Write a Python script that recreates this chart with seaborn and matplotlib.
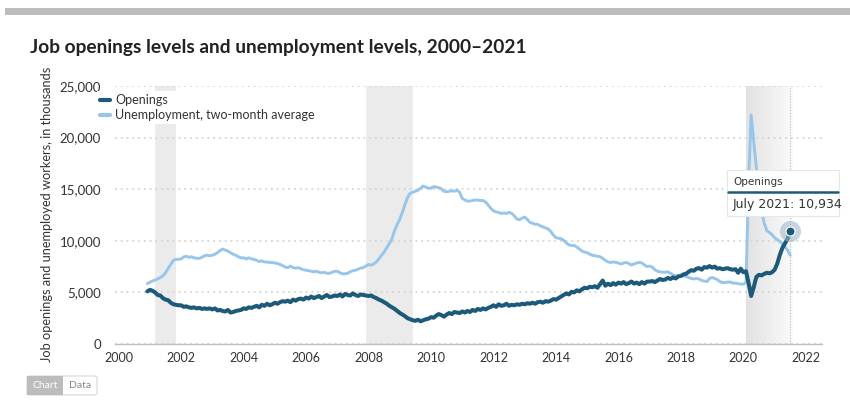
import matplotlib
matplotlib.use("Agg")
import matplotlib.pyplot as plt
import matplotlib.dates as mdates
from matplotlib.patches import Rectangle, FancyBboxPatch
from matplotlib.ticker import FuncFormatter, MultipleLocator
import seaborn as sns
import numpy as np
import pandas as pd

# monthly values in thousands, Dec 2000 .. Jul 2021
openings = [
    5.10,
    5.25, 5.15, 5.00, 4.75, 4.70, 4.45, 4.30, 4.25, 4.00, 3.85, 3.80, 3.75,
    3.75, 3.60, 3.65, 3.55, 3.50, 3.55, 3.45, 3.50, 3.40, 3.45, 3.40, 3.45,
    3.35, 3.45, 3.25, 3.30, 3.20, 3.15, 3.30, 3.05, 3.10, 3.20, 3.25, 3.30,
    3.45, 3.40, 3.55, 3.50, 3.60, 3.70, 3.55, 3.80, 3.70, 3.90, 3.75, 3.85,
    4.00, 3.90, 4.05, 4.15, 4.10, 4.20, 4.05, 4.30, 4.20, 4.35, 4.40, 4.30,
    4.50, 4.40, 4.60, 4.45, 4.55, 4.65, 4.45, 4.60, 4.75, 4.55, 4.60, 4.70,
    4.65, 4.80, 4.60, 4.85, 4.75, 4.70, 4.90, 4.75, 4.65, 4.80, 4.75, 4.70,
    4.65, 4.70, 4.55, 4.45, 4.30, 4.20, 4.05, 3.90, 3.70, 3.55, 3.40, 3.20,
    3.00, 2.85, 2.70, 2.50, 2.40, 2.30, 2.25, 2.35, 2.20, 2.30, 2.40, 2.45,
    2.60, 2.55, 2.75, 2.90, 2.80, 2.65, 2.85, 3.00, 2.90, 3.10, 3.05, 3.00,
    3.15, 3.05, 3.20, 3.10, 3.30, 3.20, 3.40, 3.30, 3.45, 3.35, 3.50, 3.60,
    3.75, 3.60, 3.85, 3.70, 3.75, 3.90, 3.70, 3.80, 3.75, 3.85, 3.80, 3.90,
    3.85, 3.95, 3.90, 4.00, 3.90, 4.05, 4.10, 4.00, 4.15, 4.10, 4.20, 4.35,
    4.30, 4.45, 4.60, 4.75, 4.90, 4.80, 5.05, 5.00, 5.20, 5.10, 5.30, 5.45,
    5.40, 5.55, 5.50, 5.60, 5.45, 5.80, 6.15, 5.65, 5.85, 5.70, 5.90, 5.75,
    5.95, 5.85, 6.00, 5.80, 5.90, 6.05, 5.85, 5.95, 5.80, 6.00, 5.85, 6.05,
    6.05, 6.10, 6.00, 6.15, 6.30, 6.20, 6.25, 6.40, 6.30, 6.45, 6.35, 6.55,
    6.60, 6.75, 6.80, 7.00, 7.15, 7.10, 7.30, 7.35, 7.20, 7.45, 7.40, 7.55,
    7.40, 7.50, 7.30, 7.35, 7.25, 7.30, 7.35, 7.25, 7.20, 7.25, 6.90, 7.30,
    6.95, 7.05, 5.95, 4.65, 5.50, 6.50, 6.70, 6.65, 6.80, 6.90, 6.85, 6.95,
    7.20, 7.80, 8.60, 9.30, 9.75, 10.20, 10.934,
]

unemployment = [
    5.85,
    6.00, 6.10, 6.20, 6.30, 6.45, 6.60, 6.90, 7.30, 7.70, 8.10, 8.20, 8.20,
    8.25, 8.45, 8.50, 8.40, 8.45, 8.35, 8.30, 8.30, 8.40, 8.55, 8.60, 8.55,
    8.60, 8.70, 8.85, 9.05, 9.20, 9.10, 9.00, 8.85, 8.70, 8.60, 8.45, 8.35,
    8.35, 8.25, 8.35, 8.25, 8.20, 8.10, 8.00, 8.05, 7.95, 7.95, 7.90, 7.90,
    7.85, 7.80, 7.70, 7.60, 7.45, 7.40, 7.55, 7.40, 7.35, 7.40, 7.30, 7.20,
    7.15, 7.10, 7.05, 7.00, 7.05, 6.95, 6.90, 6.95, 6.85, 6.85, 6.95, 7.05,
    7.05, 6.90, 6.80, 6.80, 6.85, 7.00, 7.10, 7.15, 7.25, 7.35, 7.40, 7.55,
    7.70, 7.65, 7.75, 7.95, 8.25, 8.60, 8.90, 9.35, 9.75, 10.20, 11.00, 11.60,
    12.10, 12.80, 13.50, 14.20, 14.60, 14.70, 14.80, 14.90, 15.10, 15.30, 15.20, 15.10,
    15.10, 15.25, 15.20, 15.15, 15.05, 14.80, 14.75, 14.80, 14.85, 14.80, 14.90, 14.70,
    14.10, 13.95, 13.85, 13.85, 13.90, 13.95, 13.95, 13.90, 13.90, 13.75, 13.45, 13.15,
    12.90, 12.80, 12.75, 12.65, 12.70, 12.65, 12.75, 12.65, 12.40, 12.10, 12.05, 12.20,
    12.30, 12.05, 11.80, 11.70, 11.60, 11.60, 11.45, 11.35, 11.25, 11.15, 10.90, 10.55,
    10.30, 10.25, 10.20, 10.05, 9.80, 9.60, 9.55, 9.55, 9.40, 9.20, 9.00, 8.90,
    8.85, 8.70, 8.60, 8.55, 8.50, 8.45, 8.30, 8.10, 7.95, 7.90, 7.95, 7.90,
    7.85, 7.75, 7.85, 7.90, 7.80, 7.65, 7.75, 7.85, 7.90, 7.85, 7.65, 7.50,
    7.55, 7.45, 7.20, 7.05, 7.00, 6.95, 6.95, 7.00, 6.85, 6.70, 6.60, 6.60,
    6.60, 6.60, 6.55, 6.45, 6.35, 6.30, 6.35, 6.30, 6.15, 6.10, 6.05, 6.35,
    6.45, 6.35, 6.25, 6.05, 5.95, 5.95, 6.00, 6.00, 5.90, 5.90, 5.85, 5.80,
    5.80, 5.95, 15.50, 22.20, 19.60, 17.10, 14.80, 13.00, 11.70, 11.00, 10.80, 10.60,
    10.30, 10.10, 9.95, 9.70, 9.40, 9.10, 8.60,
]

recessions = [("2001-03-01", "2001-11-01"), ("2007-12-01", "2009-06-01")]
covid_start = "2020-02-01"
series_names = ["Openings", "Unemployment, two-month average"]
colors = ["#1d5a7a", "#98c5ea"]

months = pd.date_range("2000-12-01", periods=len(openings), freq="MS")
df = pd.DataFrame({
    "date": np.concatenate([months, months]),
    "value": np.array(openings + unemployment) * 1000,
    "series": [series_names[0]] * len(openings) + [series_names[1]] * len(unemployment),
})

sns.set_style("white")
plt.rcParams["font.family"] = ["Lato", "DejaVu Sans"]

fig = plt.figure(figsize=(8.5, 4.07), dpi=100)
W, H = 850, 407
ax = fig.add_axes([115 / W, 1 - 344 / H, (821.7 - 115) / W, (344 - 86) / H])

# recession shading
for a, b in recessions:
    ax.axvspan(pd.Timestamp(a), pd.Timestamp(b), color="#ebebeb", lw=0, zorder=0)

# fading band for the latest recession up to the highlighted month
x0 = mdates.date2num(pd.Timestamp(covid_start))
x1 = mdates.date2num(months[-1]) + 25
rgba = np.ones((1, 200, 4))
rgba[..., :3] = 0.89
rgba[0, :, 3] = np.linspace(1.0, 0.15, 200)
ax.imshow(rgba, extent=[x0, x1, 0, 25000], aspect="auto", zorder=0.5,
          interpolation="bilinear")

sns.lineplot(data=df[df.series == series_names[1]], x="date", y="value",
             color=colors[1], lw=2.1, ax=ax, zorder=3, label=series_names[1])
sns.lineplot(data=df[df.series == series_names[0]], x="date", y="value",
             color=colors[0], lw=2.9, ax=ax, zorder=4, label=series_names[0])

ax.set_xlim(pd.Timestamp("1999-11-19"), pd.Timestamp("2022-07-05"))
ax.set_ylim(0, 25000)
ax.set_xlabel("")
ax.set_ylabel("")

ax.yaxis.set_major_locator(MultipleLocator(5000))
ax.yaxis.set_major_formatter(FuncFormatter(lambda v, p: f"{int(v):,}"))
ax.xaxis.set_major_locator(mdates.YearLocator(2))
ax.xaxis.set_major_formatter(mdates.DateFormatter("%Y"))
ax.grid(axis="y", color="#d4d4d4", lw=1.3, ls=(0, (1, 2.2)), zorder=1)
ax.set_axisbelow(True)
for s in ["top", "right", "left"]:
    ax.spines[s].set_visible(False)
ax.spines["bottom"].set_color("#bdbdbd")
ax.spines["bottom"].set_linewidth(1.0)
ax.tick_params(axis="x", length=4, color="#bdbdbd", labelsize=9, labelcolor="#333333", pad=2)
ax.tick_params(axis="y", length=0, labelsize=9.5, labelcolor="#333333", pad=10)

# crosshair + highlighted point
last_x, last_y = months[-1], openings[-1] * 1000
ax.axvline(last_x, color="#bbbbbb", lw=0.8, ls=(0, (1, 1.5)), zorder=2)
ax.scatter([last_x], [last_y], s=230, color="#9bb4c8", alpha=0.55, zorder=5, lw=0)
ax.scatter([last_x], [last_y], s=42, color=colors[0], zorder=6, edgecolor="white", lw=0.8)

# legend
handles, labels = ax.get_legend_handles_labels()
order = [labels.index(n) for n in series_names]
leg = ax.legend([handles[i] for i in order], [labels[i] for i in order],
                loc="upper left", bbox_to_anchor=(97 / W, 1 - 91 / H),
                bbox_transform=fig.transFigure, frameon=True, fancybox=False,
                facecolor="white", edgecolor="none", framealpha=1,
                fontsize=9, handlelength=0.8, handletextpad=0.4,
                labelspacing=0.25, borderpad=0.25, borderaxespad=0)
for line in leg.get_lines():
    line.set_linewidth(3)
for t in leg.get_texts():
    t.set_color("#333333")

# tooltip box
fig.patches.append(Rectangle((727 / W, 1 - 216 / H), 112 / W, 46 / H,
                             transform=fig.transFigure, facecolor="white",
                             edgecolor="#e6e6e6", lw=0.8, zorder=10))
fig.lines.append(plt.Line2D([728 / W, 838 / W], [1 - 192 / H, 1 - 192 / H],
                            transform=fig.transFigure, color=colors[0], lw=1.8, zorder=11))
fig.text(733 / W, 1 - 182 / H, series_names[0], fontsize=7.5, color="#333333",
         family="DejaVu Sans", va="center", zorder=12)
fig.text(733 / W, 1 - 204 / H, f"July 2021: {openings[-1] * 1000:,.0f}", fontsize=9,
         color="#333333", family="DejaVu Sans", va="center", zorder=12)

# y label
fig.text(47 / W, 1 - 214 / H, "Job openings and unemployed workers, in thousands",
         rotation=90, fontsize=9.2, color="#333333", ha="center", va="center")

# title and top bar
fig.patches.append(Rectangle((5 / W, 1 - 15 / H), 845 / W, 7 / H, transform=fig.transFigure,
                             facecolor="#bdbdbd", edgecolor="none"))
fig.text(30 / W, 1 - 47 / H, "Job openings levels and unemployment levels, 2000\u20132021",
         fontsize=13.8, fontweight="bold", color="#222222", va="center")

# chart/data toggle
fig.patches.append(FancyBboxPatch((27 / W, 1 - 395 / H), 70 / W, 19 / H,
                                  boxstyle="round,pad=0,rounding_size=0.004",
                                  transform=fig.transFigure, facecolor="white",
                                  edgecolor="#d6d6d6", lw=0.8))
fig.patches.append(Rectangle((27 / W, 1 - 395 / H), 36 / W, 19 / H, transform=fig.transFigure,
                             facecolor="#bcbcbc", edgecolor="none"))
fig.text(45 / W, 1 - 385.5 / H, "Chart", fontsize=7.5, color="white", ha="center", va="center")
fig.text(80 / W, 1 - 385.5 / H, "Data", fontsize=7.5, color="#888888", ha="center", va="center")

fig.savefig("out.png", dpi=100)
